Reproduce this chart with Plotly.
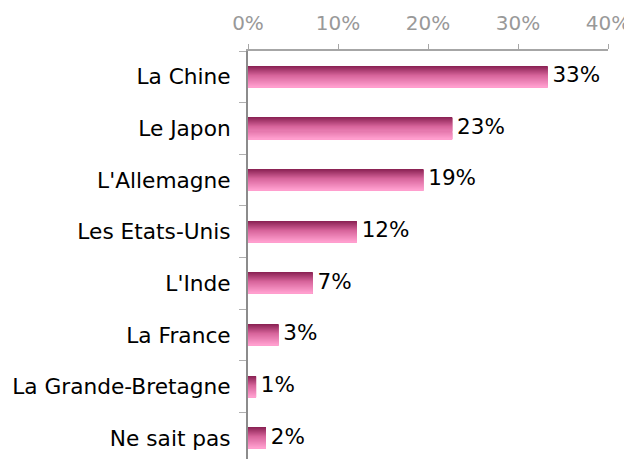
import plotly.graph_objects as go

categories = ["La Chine", "Le Japon", "L'Allemagne", "Les Etats-Unis", "L'Inde",
              "La France", "La Grande-Bretagne", "Ne sait pas"]
values = [33.3, 22.7, 19.5, 12.1, 7.2, 3.4, 0.9, 2.0]
labels = ["33%", "23%", "19%", "12%", "7%", "3%", "1%", "2%"]
x_ticks = [0, 10, 20, 30, 40]
x_tick_labels = ["0%", "10%", "20%", "30%", "40%"]

BAR_W = 0.41
N_BANDS = 21
stops = [(0.0, (140, 35, 85)), (0.45, (215, 100, 155)), (1.0, (255, 158, 206))]


def grad(t):
    for (t0, c0), (t1, c1) in zip(stops[:-1], stops[1:]):
        if t <= t1:
            f = (t - t0) / (t1 - t0) if t1 > t0 else 0
            return "rgb(%d,%d,%d)" % tuple(round(a + (b - a) * f) for a, b in zip(c0, c1))
    return "rgb(%d,%d,%d)" % stops[-1][1]


fig = go.Figure()
fig.add_trace(go.Bar(
    x=values, y=categories, orientation="h", width=BAR_W,
    marker=dict(color=grad(0.5), line=dict(width=0)),
    hoverinfo="skip", showlegend=False,
))
band = BAR_W / N_BANDS
for k in range(N_BANDS):
    fig.add_trace(go.Bar(
        x=values, y=categories, orientation="h",
        width=band * 1.05, offset=-BAR_W / 2 + k * band,
        marker=dict(color=grad(k / (N_BANDS - 1)), line=dict(width=0)),
        hoverinfo="skip", showlegend=False,
    ))
# value labels (invisible marker gives a small gap after the bar end)
fig.add_trace(go.Scatter(
    x=values, y=categories, mode="markers+text", text=labels,
    marker=dict(size=6, opacity=0),
    textposition="middle right", cliponaxis=False,
    textfont=dict(family="DejaVu Sans", size=21.5, color="black"),
    hoverinfo="skip", showlegend=False,
))

# the page adds a body margin, so the figure is 8px smaller and shifted
fig.update_layout(
    width=624, height=451,
    margin=dict(l=240, r=24, t=43, b=0),
    barmode="overlay",
    plot_bgcolor="white", paper_bgcolor="white",
    font=dict(family="DejaVu Sans", size=21.7, color="black"),
    xaxis=dict(
        side="top", range=[0, 40], tickvals=x_ticks, ticktext=x_tick_labels,
        showgrid=False, zeroline=False, showline=True, linecolor="#a6a6a6", linewidth=2,
        ticks="outside", ticklen=5, tickwidth=1, tickcolor="#a6a6a6",
        tickfont=dict(family="DejaVu Sans", size=20, color="#999999"),
        ticklabelstandoff=6,
    ),
    yaxis=dict(
        categoryorder="array", categoryarray=categories,
        range=[7.40, -0.5], showgrid=False, zeroline=False,
        showline=True, linecolor="#8c8c8c", linewidth=2,
        ticks="outside", tickson="boundaries", ticklen=7, tickcolor="#b0b0b0",
        tickfont=dict(family="DejaVu Sans", size=21.7, color="black"),
        ticklabelstandoff=11,
    ),
)

fig.write_html("out.html")
